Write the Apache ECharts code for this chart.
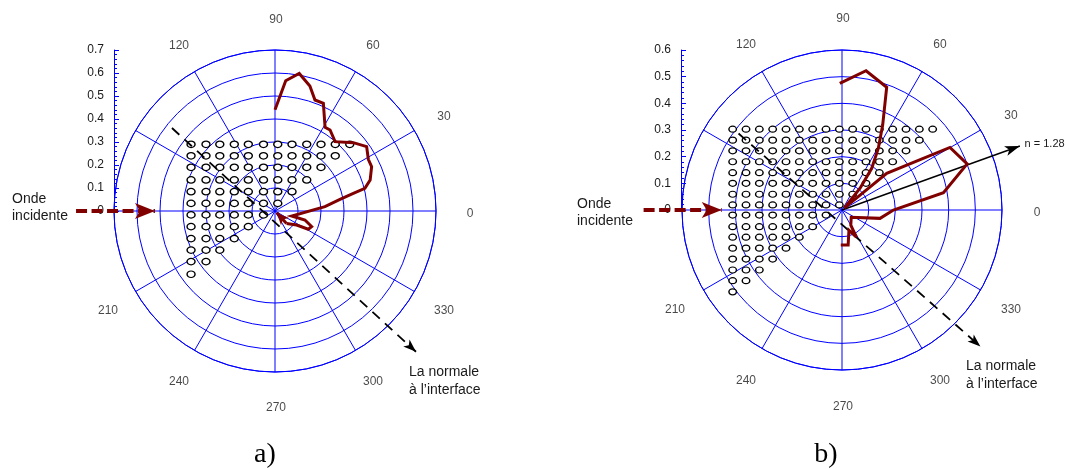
<!DOCTYPE html>
<html><head><meta charset="utf-8">
<script src="https://cdn.jsdelivr.net/npm/echarts@6/dist/echarts.min.js"></script>
<style>html,body{margin:0;padding:0;background:#fff}#c{width:1069px;height:469px}</style>
</head><body><div id="c"></div>
<script>
// ---------- data ----------
// angle tick labels that are printed (150 and 180 are not labelled in the original)
const angleLabels = [0, 30, 60, 90, 120, 210, 240, 270, 300, 330];
const radiusMaxA = 0.7;
const radiusMaxB = 0.6;

// amplitude curves: [radius, angle(deg)]
const curveA = [[0.44,90],[0.568,85.3],[0.607,80],[0.564,74.4],[0.513,70.2],[0.513,65.8],[0.424,59.1],[0.426,55.8],[0.399,49.1],[0.452,41.1],[0.487,35.1],[0.464,29],[0.462,24.6],[0.435,18],[0.403,14.1],[0.349,12.7],[0.287,10.2],[0.218,5],[0.076,343.3],[0.136,343.3],[0.173,337],[0.165,331.2],[0.112,327],[0.074,313]];
const curveB = [[0.475,91],[0.53,80.2],[0.49,70],[0.353,64.4],[0.268,59.5],[0.192,54.5],[0.106,50.3],[0.012,40],[0.217,39.4],[0.468,30.1],[0.50,20.2],[0.386,9.7],[0.193,0],[0.146,347.6],[0.044,322],[0.066,300],[0.115,298],[0.08,289],[0.133,280],[0.131,268]];

// grid of sample points (x, y in the radius units)
const dotColsA = [-0.365,-0.30,-0.24,-0.177,-0.116,-0.05,0.012,0.074,0.138,0.20,0.262,0.325];
const dotRowsA = [0.29,0.24,0.19,0.135,0.084,0.033,-0.017,-0.068,-0.12,-0.17,-0.22,-0.275];
const dotCountsA = [12,11,10,9,8,7,6,5,4,3,2,1];
const dotColsB = [-0.41,-0.36,-0.31,-0.26,-0.21,-0.16,-0.11,-0.06,-0.01,0.04,0.09,0.14,0.19,0.24,0.29,0.34];
const dotRowsB = [0.303,0.262,0.222,0.181,0.14,0.10,0.059,0.019,-0.019,-0.0625,-0.102,-0.143,-0.184,-0.225,-0.265,-0.307];
const dotCountsB = [16,15,14,13,12,11,10,9,8,7,6,5,4,3,2,1];

// annotation arrows [[x0,y0],[tip x,tip y]]
const incidentA = [[-0.865,0],[-0.522,0]];
const normalA = [[-0.448,0.361],[0.613,-0.612]];
const pointerA = [[0.05,-0.054],[0.008,-0.008]];
const incidentB = [[-0.744,0],[-0.451,0]];
const normalB = [[-0.388,0.287],[0.519,-0.512]];
const refractB = [[0,0],[0.667,0.240]];
const refractLabel = 'n = 1.28';

// ---------- styles ----------
const BLUE = '#0000ff', MAROON = '#800000', TXT = '#1a1a1a';
const FONT = '"Liberation Sans", Arial, sans-serif';
const LABEL_R_A = 0.7 * 194 / 161;   // angle labels sit ~33 px outside the outer ring
const LABEL_R_B = 0.6 * 194 / 160;

function dotGrid(xs, ys, counts) {
  const out = [];
  ys.forEach((y, i) => { for (let k = 0; k < counts[i]; k++) out.push([xs[k], y]); });
  return out;
}
function angleAxisCfg(i) {
  return { polarIndex: i, type: 'value', min: 0, max: 360, interval: 30, startAngle: 0, clockwise: false,
    axisLine: { show: true, lineStyle: { color: BLUE, width: 1 } }, axisTick: { show: false },
    splitLine: { show: true, lineStyle: { color: BLUE, width: 1 } },
    axisLabel: { show: false } };
}
function radiusAxisCfg(i, max) {
  return { polarIndex: i, type: 'value', min: 0, max: max, interval: 0.1,
    axisLine: { show: false }, axisTick: { show: false }, axisLabel: { show: false },
    splitLine: { show: true, lineStyle: { color: BLUE, width: 1 } } };
}
function scaleAxis(grid, max) {
  return { gridIndex: grid, type: 'value', min: 0, max: max, interval: 0.1, position: 'left',
    axisLine: { show: true, onZero: false, lineStyle: { color: BLUE, width: 1 } },
    axisTick: { show: true, inside: true, length: 5, lineStyle: { color: BLUE } },
    minorTick: { show: true, splitNumber: 5, length: 3, lineStyle: { color: BLUE } },
    splitLine: { show: false }, minorSplitLine: { show: false },
    axisLabel: { margin: 10, color: TXT, fontSize: 12, fontFamily: FONT, formatter: v => v === 0 ? '0' : v.toFixed(1) } };
}
function angleLabelSeries(idx, r) {
  return { type: 'scatter', coordinateSystem: 'polar', polarIndex: idx, clip: false, silent: true, z: 6,
    data: angleLabels.map(a => [r, a]), symbol: 'circle', symbolSize: 0.01, itemStyle: { color: 'rgba(0,0,0,0)' },
    label: { show: true, position: 'inside', offset: [1, 2.5], color: TXT, fontSize: 12, fontFamily: FONT, formatter: p => String(p.value[1]) } };
}
function arrow(seg, color, width, dash, size, extra) {
  const from = Object.assign({ coord: seg[0], symbol: 'none',
    lineStyle: { color: color, width: width, type: dash, cap: 'butt' } }, extra || {});
  const to = { coord: seg[1], symbol: 'arrow', symbolSize: size, itemStyle: { color: color } };
  return [from, to];
}
function dotsSeries(idx, data, size, lines) {
  return { type: 'scatter', xAxisIndex: idx, yAxisIndex: idx, data: data, symbol: 'circle', symbolSize: size,
    itemStyle: { color: '#fff', borderColor: '#000', borderWidth: 1.3, opacity: 1 }, z: 3, silent: true, clip: false,
    markLine: { silent: true, z: 4, animation: false, label: { show: false }, symbol: ['none', 'none'], data: lines } };
}
function curveSeries(idx, data) {
  return { type: 'line', coordinateSystem: 'polar', polarIndex: idx, data: data, symbol: 'none', showSymbol: false,
    lineStyle: { color: MAROON, width: 3, join: 'miter', miterLimit: 4 }, z: 5, silent: true };
}

// overlay grids share the polar scale: A = 230 px per unit, B = 266.7 px per unit
const option = {
  backgroundColor: '#fff',
  animation: false,
  polar: [{ center: [275, 211], radius: 161 }, { center: [842, 210], radius: 160 }],
  angleAxis: [angleAxisCfg(0), angleAxisCfg(1)],
  radiusAxis: [radiusAxisCfg(0, radiusMaxA), radiusAxisCfg(1, radiusMaxB)],
  grid: [
    { left: 45, top: 50, width: 460, height: 322 },
    { left: 628.67, top: 50, width: 426.67, height: 320 },
    { left: 114, top: 50, width: 20, height: 161 },
    { left: 681, top: 50, width: 20, height: 160 }
  ],
  xAxis: [
    { gridIndex: 0, type: 'value', min: -1.0, max: 1.0, show: false },
    { gridIndex: 1, type: 'value', min: -0.8, max: 0.8, show: false },
    { gridIndex: 2, type: 'value', min: 0, max: 1, show: false },
    { gridIndex: 3, type: 'value', min: 0, max: 1, show: false }
  ],
  yAxis: [
    { gridIndex: 0, type: 'value', min: -radiusMaxA, max: radiusMaxA, show: false },
    { gridIndex: 1, type: 'value', min: -radiusMaxB, max: radiusMaxB, show: false },
    scaleAxis(2, radiusMaxA),
    scaleAxis(3, radiusMaxB)
  ],
  series: [
    dotsSeries(0, dotGrid(dotColsA, dotRowsA, dotCountsA), [8, 6.5], [
      arrow(incidentA, MAROON, 4, [11, 4.5], [12, 20]),
      arrow(normalA, '#000', 1.8, [10, 7], [7, 13]),
      arrow(pointerA, MAROON, 3, 'solid', [8, 12])
    ]),
    dotsSeries(1, dotGrid(dotColsB, dotRowsB, dotCountsB), [7.5, 6], [
      arrow(incidentB, MAROON, 4, [11, 4.5], [12, 20]),
      arrow(normalB, '#000', 1.8, [10, 7], [7, 13]),
      arrow(refractB, '#000', 1.5, 'solid', [7.5, 15],
        { label: { show: true, position: 'end', distance: 5, formatter: refractLabel, color: TXT, fontSize: 11, fontFamily: FONT } })
    ]),
    curveSeries(0, curveA),
    curveSeries(1, curveB),
    angleLabelSeries(0, LABEL_R_A),
    angleLabelSeries(1, LABEL_R_B)
  ],
  graphic: [
    { type: 'text', x: 12, y: 190.5, silent: true, style: { text: 'Onde\nincidente', fill: TXT, fontSize: 14, fontFamily: FONT, lineHeight: 17, verticalAlign: 'top' } },
    { type: 'text', x: 577, y: 195.5, silent: true, style: { text: 'Onde\nincidente', fill: TXT, fontSize: 14, fontFamily: FONT, lineHeight: 17, verticalAlign: 'top' } },
    { type: 'text', x: 409, y: 363, silent: true, style: { text: 'La normale\nà l’interface', fill: TXT, fontSize: 14, fontFamily: FONT, lineHeight: 18, verticalAlign: 'top' } },
    { type: 'text', x: 966, y: 356.7, silent: true, style: { text: 'La normale\nà l’interface', fill: TXT, fontSize: 14, fontFamily: FONT, lineHeight: 18, verticalAlign: 'top' } },
    { type: 'text', x: 265, y: 455, silent: true, style: { text: 'a)', fill: '#000', fontSize: 28, fontFamily: '"Liberation Serif", "Times New Roman", serif', align: 'center', verticalAlign: 'middle' } },
    { type: 'text', x: 826, y: 455, silent: true, style: { text: 'b)', fill: '#000', fontSize: 28, fontFamily: '"Liberation Serif", "Times New Roman", serif', align: 'center', verticalAlign: 'middle' } }
  ]
};
const chart = echarts.init(document.getElementById('c'), null, { renderer: 'canvas' });
chart.setOption(option);
</script>
</body></html>
